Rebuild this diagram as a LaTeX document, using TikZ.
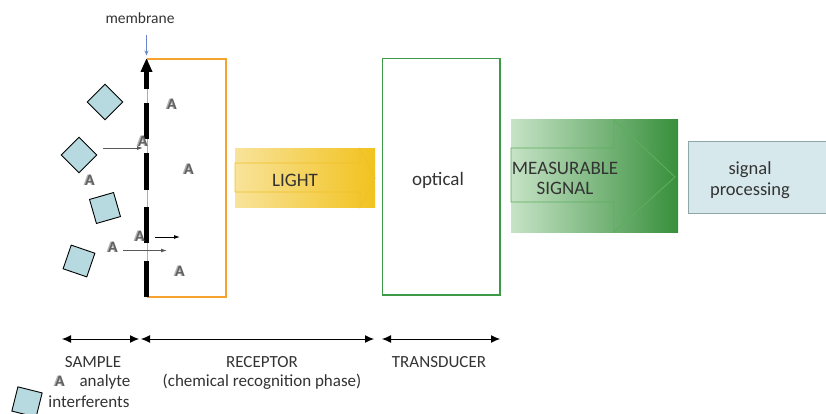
\documentclass[tikz,border=0pt]{standalone}
\usepackage{fontspec}
\setmainfont{Carlito}
\usetikzlibrary{arrows.meta}
\definecolor{txt}{HTML}{333333}
\definecolor{orng}{HTML}{F5A32E}
\definecolor{grn}{HTML}{3C9A46}
\definecolor{sqfill}{HTML}{B6DADF}
\definecolor{boxfill}{HTML}{D6E8EC}
\definecolor{boxedge}{HTML}{8FA6AA}
\definecolor{ylo}{HTML}{F8E39A}
\definecolor{yhi}{HTML}{F2C21E}
\definecolor{yedge}{HTML}{EFC02A}
\definecolor{glo}{HTML}{C6E3C6}
\definecolor{ghi}{HTML}{378F3B}
\definecolor{gedge}{HTML}{5DAE5F}
\definecolor{memblue}{HTML}{6A86C8}
\tikzset{
  big/.style={text=txt,font=\fontsize{19}{20}\selectfont,inner sep=0pt},
  small/.style={text=txt,font=\fontsize{17}{19}\selectfont,inner sep=0pt},
  sq/.style={draw=black,fill=sqfill,line width=0.9pt,minimum size=25pt,inner sep=0pt,shape=rectangle},
  mem/.style={line width=5pt,black},
  span/.style={line width=1pt,black,{Latex[length=9pt,width=8pt]}-{Latex[length=9pt,width=8pt]}},
  move/.style={line width=0.9pt,-{Latex[length=6pt,width=4pt]}},
  analyte/.pic={
    \node[text=black!30,font=\fontsize{16}{16}\selectfont\bfseries,inner sep=0pt] (-s) at (-1.6,0.6) {A};
    \node[text=black!62,font=\fontsize{16}{16}\selectfont\bfseries,inner sep=0pt] (-m) at (0,0) {A};
  }
}
\begin{document}
\begin{tikzpicture}[x=1pt,y=-1pt]
\useasboundingbox (0,0) rectangle (826,414);

% receptor box
\draw[orng,line width=1.3pt] (147.5,59) rectangle (226,297);
\node (rec) at (187,178) {};

% membrane
\node[text=txt,font=\fontsize{15.5}{16}\selectfont,inner sep=0pt] (memlabel) at (140,18) {membrane};
\coordinate (mtop) at (146.5,58);
\coordinate (mstart) at (146.5,35);
\draw[memblue,line width=0.8pt,-{Stealth[length=5pt,width=4pt]}] (mstart) -- (146.5,55.5);
\coordinate (m1) at (146.5,89);
\draw[mem,-{Triangle[length=14pt,width=11pt]}] (m1) -- (mtop);
\draw[mem] (146.5,103) -- (146.5,139);
\draw[mem] (146.5,153) -- (146.5,190);
\draw[mem] (146.5,207) -- (146.5,243);
\draw[mem] (146.5,261) -- (146.5,297);

% interferents
\node[sq,rotate=45] (i1) at (105,102) {};
\node[sq,rotate=45] (i2) at (79,155) {};
\node[sq,rotate=16] (i3) at (105,208) {};
\node[sq,rotate=-19] (i4) at (79,261) {};
\node[sq,rotate=-14] (i5) at (27,402) {};

% analytes
\pic (a1) at (172,104) {analyte};
\pic (a2) at (143,141) {analyte};
\pic (a3) at (90,180) {analyte};
\pic (a4) at (189,169) {analyte};
\pic (a5) at (140,236) {analyte};
\pic (a6) at (113,247) {analyte};
\pic (a7) at (180,271) {analyte};
\pic (a8) at (60,381) {analyte};

% small arrows
\coordinate (s1a) at (103,148); \coordinate (s1b) at (143,148);
\draw[move,black!65] (s1a) -- (s1b);
\coordinate (s2a) at (155,237); \coordinate (s2b) at (180,237);
\draw[move,black] (s2a) -- (s2b);
\coordinate (s3a) at (123,250.5); \coordinate (s3b) at (167,250.5);
\draw[move,black!65] (s3a) -- (s3b);

% LIGHT
\shade[left color=ylo,right color=yhi] (235,149) rectangle (375,207);
\draw[yedge,line width=0.8pt] (235,163) -- (360,163) -- (360,149) -- (375,178) -- (360,207) -- (360,192) -- (235,192) -- cycle;
\node[big] (light) at (295,180) {LIGHT};

% transducer
\draw[grn,line width=1.3pt] (382.5,58.5) rectangle (500,295);
\node[big] (optical) at (438,180) {optical};

% measurable signal
\shade[left color=glo,right color=ghi] (511,120) rectangle (678,232);
\draw[gedge,line width=0.9pt] (511,148) -- (614,148) -- (614,120) -- (675,177) -- (614,232) -- (614,202) -- (511,202) -- cycle;
\node[big,align=center] (meas) at (565,178) {MEASURABLE\\SIGNAL};

% signal processing
\draw[boxedge,fill=boxfill,line width=0.9pt] (688,141) rectangle (828,213);
\node[big,align=center,font=\fontsize{18.5}{20.5}\selectfont] (proc) at (750,180) {signal\\processing};

% spans
\coordinate (b0) at (62,339); \coordinate (b1) at (139,339);
\coordinate (b2) at (141,339); \coordinate (b3) at (374,339);
\coordinate (b4) at (382,339); \coordinate (b5) at (500,339);
\draw[span] (b0) -- (b1);
\draw[span] (b2) -- (b3);
\draw[span] (b4) -- (b5);
\node[small] (lsample) at (93,362) {SAMPLE};
\node[small] (lrec) at (262,362) {RECEPTOR};
\node[small] (lrec2) at (262,382) {(chemical recognition phase)};
\node[small] (ltrans) at (439,362) {TRANSDUCER};
\node[small] (lanal) at (105,382) {analyte};
\node[small] (linter) at (89,402) {interferents};
\end{tikzpicture}
\end{document}
